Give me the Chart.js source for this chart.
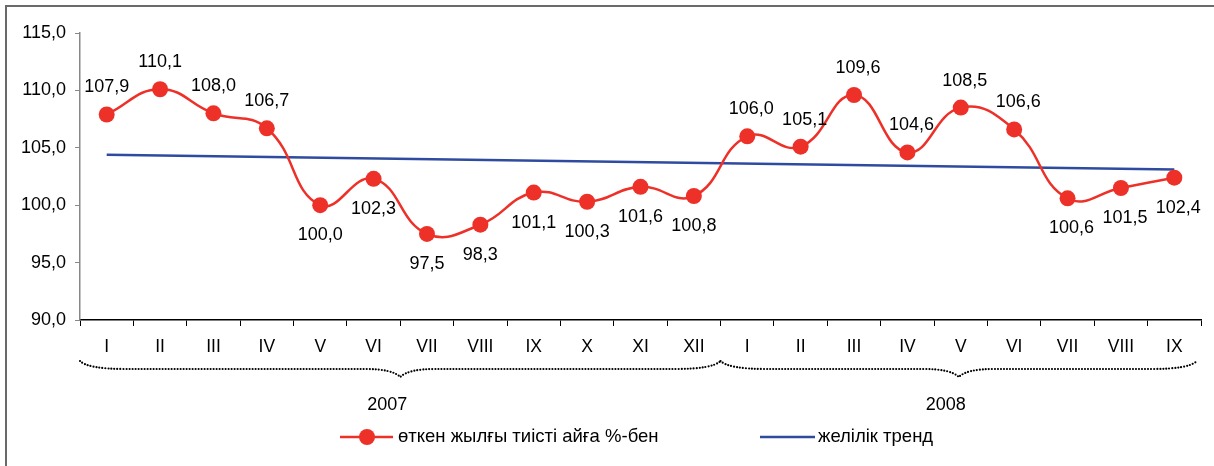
<!DOCTYPE html>
<html>
<head>
<meta charset="utf-8">
<script src="https://cdn.jsdelivr.net/npm/chart.js@4.4.1/dist/chart.umd.min.js"></script>
<style>
  body { margin: 0; background: #fff; }
  #wrap { width: 1214px; height: 466px; }
</style>
</head>
<body>
<div id="wrap"><canvas id="mycanvas" width="1214" height="466"></canvas></div>
<script>
// months, two years
var months = ['I','II','III','IV','V','VI','VII','VIII','IX','X','XI','XII',
              'I','II','III','IV','V','VI','VII','VIII','IX'];
var values = [107.9, 110.1, 108.0, 106.7, 100.0, 102.3, 97.5, 98.3, 101.1, 100.3, 101.6, 100.8,
              106.0, 105.1, 109.6, 104.6, 108.5, 106.6, 100.6, 101.5, 102.4];
var years = ['2007', '2008'];
var yearMonths = [12, 9];
// trend line ends
var trendStart = 104.4;
var trendEnd = 103.1;
var seriesName = 'өткен жылғы тиісті айға %-бен';
var trendName = 'желілік тренд';

// label above (a) or below (b) the point
var labelSide = ['a','a','a','a','b','b','b','b','b','b','b','b',
                 'a','a','a','a','a','a','b','b','b'];

var RED = '#ED3129';
var BLUE = '#2F4B9F';
var FONT = '"Liberation Sans", Arial, sans-serif';

var trend = [];
for (var i = 0; i < values.length; i++) trend.push(null);
trend[0] = trendStart;
trend[values.length - 1] = trendEnd;

function fmt(v) { return v.toFixed(1).replace('.', ','); }

var extras = {
  id: 'extras',
  afterDatasetsDraw: function(chart) {
    var ctx = chart.ctx;
    var meta = chart.getDatasetMeta(0);
    ctx.save();
    ctx.font = '18px ' + FONT;
    ctx.fillStyle = '#000';
    ctx.textAlign = 'center';
    ctx.textBaseline = 'middle';
    for (var i in values) {
      var p = meta.data[i];
      var dy = labelSide[i] == 'a' ? -27 : 30;
      var dx = i >= 12 ? 4 : 0;
      ctx.fillText(fmt(values[i]), p.x + dx, p.y + dy);
    }
    ctx.restore();
  },
  afterDraw: function(chart) {
    var ctx = chart.ctx;
    var area = chart.chartArea;
    var step = (area.right - area.left) / months.length;
    ctx.save();

    // frame
    ctx.strokeStyle = '#6a6a6a';
    ctx.lineWidth = 2;
    ctx.beginPath();
    ctx.moveTo(6, 466);
    ctx.lineTo(6, 6);
    ctx.lineTo(1214, 6);
    ctx.stroke();

    // dotted braces with year labels
    ctx.strokeStyle = '#000';
    ctx.lineWidth = 2.2;
    ctx.lineCap = 'round';
    ctx.setLineDash([0, 3]);
    var start = area.left;
    ctx.font = '18px ' + FONT;
    ctx.fillStyle = '#000';
    ctx.textAlign = 'center';
    ctx.textBaseline = 'middle';
    for (var k in years) {
      var end = start + yearMonths[k] * step;
      if (k == years.length - 1) end = end - 4;
      var mid = (start + end) / 2;
      var y0 = 361, y1 = 369, y2 = 377;
      ctx.beginPath();
      ctx.moveTo(start, y0);
      ctx.quadraticCurveTo(start + 8, y1, start + 45, y1);
      ctx.lineTo(mid - 35, y1);
      ctx.quadraticCurveTo(mid - 8, y1, mid, y2);
      ctx.quadraticCurveTo(mid + 8, y1, mid + 35, y1);
      ctx.lineTo(end - 45, y1);
      ctx.quadraticCurveTo(end - 8, y1, end, y0);
      ctx.stroke();
      ctx.fillText(years[k], mid - 13, 405);
      start = start + yearMonths[k] * step;
    }
    ctx.setLineDash([]);

    // legend
    var ly = 437;
    ctx.lineCap = 'butt';
    ctx.lineWidth = 2.5;
    ctx.strokeStyle = RED;
    ctx.beginPath(); ctx.moveTo(340, ly); ctx.lineTo(393, ly); ctx.stroke();
    ctx.fillStyle = RED;
    ctx.beginPath(); ctx.arc(367, ly, 8, 0, Math.PI * 2); ctx.fill();
    ctx.strokeStyle = BLUE;
    ctx.beginPath(); ctx.moveTo(760, ly); ctx.lineTo(815, ly); ctx.stroke();
    ctx.fillStyle = '#000';
    ctx.textAlign = 'left';
    ctx.font = '18.5px ' + FONT;
    ctx.fillText(seriesName, 398, ly);
    ctx.fillText(trendName, 818, ly);
    ctx.restore();
  }
};

var ctx = document.getElementById('mycanvas');
var lineGraph = new Chart(ctx, {
  type: 'line',
  data: {
    labels: months,
    datasets: [
      {
        label: seriesName,
        data: values,
        borderColor: RED,
        backgroundColor: RED,
        borderWidth: 2.5,
        pointRadius: 8,
        pointBorderWidth: 0,
        pointBackgroundColor: RED,
        tension: 0.45
      },
      {
        label: trendName,
        data: trend,
        borderColor: BLUE,
        borderWidth: 2.5,
        pointRadius: 0,
        spanGaps: true,
        tension: 0
      }
    ]
  },
  options: {
    responsive: false,
    animation: false,
    events: [],
    layout: { padding: { top: 33, right: 13, left: 0, bottom: 0 } },
    plugins: { legend: { display: false }, tooltip: { enabled: false } },
    scales: {
      x: {
        offset: true,
        grid: { offset: true, drawOnChartArea: false, drawTicks: true, tickLength: 6, color: '#000', lineWidth: 1 },
        border: { color: '#000', width: 1.5 },
        ticks: { color: '#000', font: { family: FONT, size: 17.5 }, padding: 11, maxRotation: 0, autoSkip: false },
        afterFit: function(s) { s.height = 146; }
      },
      y: {
        min: 90,
        max: 115,
        grid: { drawOnChartArea: false, drawTicks: true, tickLength: 5, color: '#888' },
        border: { color: '#888', width: 1.5 },
        ticks: { stepSize: 5, color: '#000', font: { family: FONT, size: 18 }, padding: 9,
                 callback: function(v) { return fmt(v); } },
        afterFit: function(s) { s.width = 80; }
      }
    }
  },
  plugins: [extras]
});
</script>
</body>
</html>
